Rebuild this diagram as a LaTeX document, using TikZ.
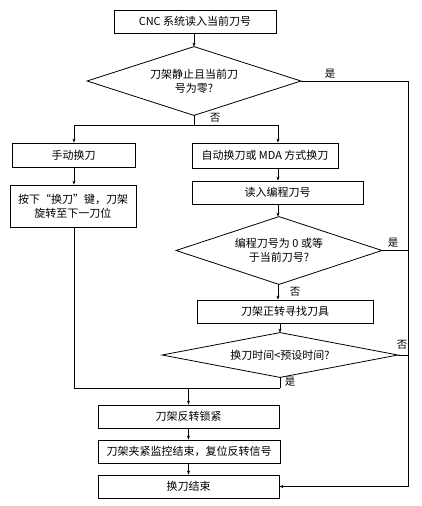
\documentclass[tikz,border=0pt]{standalone}
\usepackage{fontspec}
\setmainfont{Noto Sans CJK SC}
\usetikzlibrary{arrows.meta}
\begin{document}
\begin{tikzpicture}[x=1pt,y=-1pt,
  font=\fontsize{11}{14}\selectfont,
  line width=0.8pt,
  box/.style={draw,rectangle,inner sep=0pt,align=center},
  dia/.style={rectangle,inner sep=0pt,align=center},
  arr/.style={-{Stealth[length=4pt,width=3pt]}},
  lbl/.style={inner sep=0pt,font=\fontsize{10.5}{12}\selectfont}]
\useasboundingbox (0,0) rectangle (422,506);
\node[box,minimum width=162,minimum height=23] (b1) at (195,21.5) {CNC 系统读入当前刀号};
\node[dia,minimum width=213,minimum height=68] (d1) at (194,81) {刀架静止且当前刀\\号为零?};
\node[box,minimum width=123,minimum height=24] (hand) at (73.5,155) {手动换刀};
\node[box,minimum width=126,minimum height=42] (press) at (73,206) {按下“换刀”键，刀架\\旋转至下一刀位};
\node[box,minimum width=146,minimum height=25] (auto) at (265,155.5) {自动换刀或 MDA 方式换刀};
\node[box,minimum width=171,minimum height=23] (read) at (277.5,192.5) {读入编程刀号};
\node[dia,minimum width=205,minimum height=67] (d2) at (279,250.5) {编程刀号为 0 或等\\于当前刀号?};
\node[box,minimum width=176,minimum height=23] (fwd) at (285,311.5) {刀架正转寻找刀具};
\node[dia,minimum width=235,minimum height=44] (d3) at (280,355) {换刀时间<预设时间?};
\node[box,minimum width=181,minimum height=23] (lock) at (188.5,416.5) {刀架反转锁紧};
\node[box,minimum width=182,minimum height=23] (clamp) at (189,451.5) {刀架夹紧监控结束，复位反转信号};
\node[box,minimum width=181,minimum height=23] (fin) at (188.5,486.5) {换刀结束};
\foreach \d in {d1,d2,d3}
  \draw (\d.north) -- (\d.east) -- (\d.south) -- (\d.west) -- cycle;
\coordinate (cL) at (74,125);
\coordinate (cR) at (278,125);
\coordinate (cM) at (188.5,388);
\coordinate (xr) at (408,0);
\coordinate (jL) at (74,388);
\coordinate (jR) at (280,388);
% top
\draw[arr] (b1.south -| d1.north) -- (d1.north);
\draw (d1.south) -- (d1.south |- cL);
\draw (cL) -- (cR);
\draw[arr] (cL) -- (cL |- hand.north);
\draw[arr] (cR) -- (cR |- auto.north);
% left
\draw[arr] (hand.south -| cL) -- (cL |- press.north);
\draw (press.south -| cL) -- (jL) -- (jR);
% right column
\draw[arr] (auto.south -| cR) -- (cR |- read.north);
\draw[arr] (read.south -| cR) -- (cR |- d2.north);
\draw[arr] (d2.south -| cR) -- (cR |- fwd.north);
\draw[arr] (fwd.south -| d3.north) -- (d3.north);
\draw (d3.south) -- (jR);
\draw[arr] (cM) -- (lock.north);
\draw[arr] (lock.south) -- (clamp.north -| lock.south);
\draw[arr] (clamp.south -| fin.north) -- (fin.north);
% right side return
\draw (d1.east) -- (d1.east -| xr);
\draw (d2.east) -- (d2.east -| xr);
\draw (d3.east) -- (d3.east -| xr);
\draw[arr] (d1.east -| xr) -- (fin.east -| xr) -- (fin.east);
% labels
\node[lbl] (y1) at (330,74) {是};
\node[lbl] (n1) at (215,118) {否};
\node[lbl] (y2) at (393,243) {是};
\node[lbl] (n2) at (295,292) {否};
\node[lbl] (n3) at (402,345) {否};
\node[lbl] (y3) at (290,382) {是};
\end{tikzpicture}
\end{document}
